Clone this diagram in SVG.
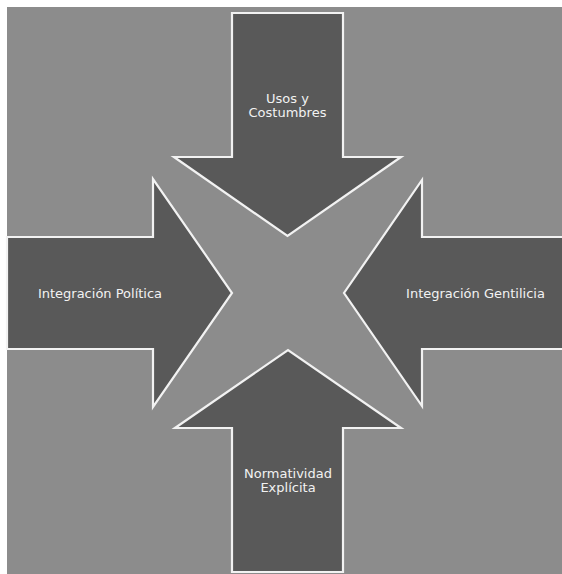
<svg xmlns="http://www.w3.org/2000/svg" width="562" height="574" viewBox="0 0 562 574">
<style>
.arrow{fill:#595959;stroke:#f2f2f2;stroke-width:2.2;stroke-linejoin:miter}
.lbl{font-family:"DejaVu Sans",Verdana,sans-serif;font-size:13px;fill:#f2f2f2;text-anchor:middle}
</style>
<rect x="0" y="0" width="562" height="574" fill="#ffffff"/>
<rect x="7" y="7" width="556" height="568" fill="#8c8c8c"/>
<g id="node-usos">
<polygon class="arrow" points="232,13 343,13 343,157 401,157 287.5,236 174,157 232,157"/>
<text class="lbl" x="287.5" y="103">Usos y</text>
<text class="lbl" x="287.5" y="117">Costumbres</text>
</g>
<g id="node-politica">
<polygon class="arrow" points="7,237 153,237 153,179 232,293 153,407 153,349 7,349"/>
<text class="lbl" x="100" y="298">Integración Política</text>
</g>
<g id="node-gentilicia">
<polygon class="arrow" points="565,237 422,237 422,180 344,293 422,406 422,349 565,349"/>
<text class="lbl" x="475.5" y="298">Integración Gentilicia</text>
</g>
<g id="node-normatividad">
<polygon class="arrow" points="232,572 343,572 343,428 401,428 288,350 175,428 232,428"/>
<text class="lbl" x="288" y="478">Normatividad</text>
<text class="lbl" x="288" y="492">Explícita</text>
</g>
<g id="connectors"></g>
</svg>
